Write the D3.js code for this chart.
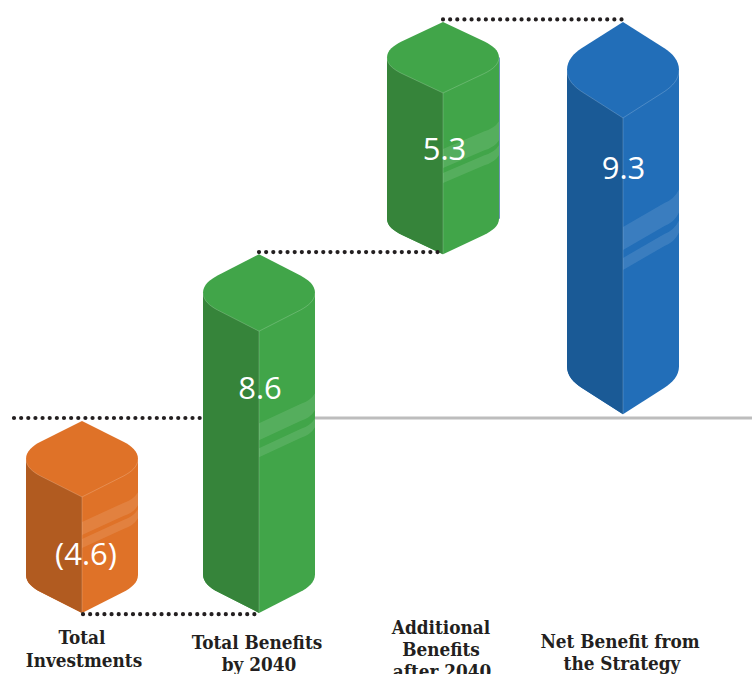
<!DOCTYPE html>
<html><head><meta charset="utf-8">
<script src="https://d3js.org/d3.v7.min.js"></script>
<style>html,body{margin:0;padding:0;background:#fff;overflow:hidden}svg{display:block}</style>
</head><body><svg id="c" width="752" height="674"></svg>
<script>
// Data
const categories = [["Total","Investments"],["Total Benefits","by 2040"],["Additional","Benefits","after 2040"],["Net Benefit from","the Strategy"]];
const valueLabels = ["(4.6)","8.6","5.3","9.3"];
const barLow  = [-4.64,-4.64,3.90,0.09];
const barHigh = [-0.07,3.90,9.43,9.43];
const connectorLevels = [0,-4.67,3.95,9.49];

// Styles and layout
const sideColor = ["#b15b20","#36843a","#36843a","#1a5a96"];
const faceColor = ["#df7228","#41a549","#41a549","#226eb8"];
const tilt = [38,38.5,35.5,48];
const bandOffset = [25,92,56,109];
const bands = [[[0,13],[17,26]],[[0,17],[25,34]],[[0,19],[24,34]],[[0,23],[31,43]]];
const labelX = [[82,84],[257,259],[441,441,442],[620,622]];
const labelY = [[644,667],[649,671],[634,656,678],[648,670]];
const valueX = [86,260,444.5,623.5];
const valueY = [565,399,160,179];
const connectorX = [[14,204],[83,259],[259,443],[443,623]];

const svg = d3.select("#c");
const xPos = d3.scaleOrdinal().domain(d3.range(4)).range([82,259,443,623]);
const y = d3.scaleLinear().domain([0,1]).range([418,376]);
const w = 56;

// zero line
svg.append("line").attr("x1",xPos(1)).attr("x2",752).attr("y1",y(0)).attr("y2",y(0))
  .attr("stroke","#bdbdbd").attr("stroke-width",3);

// bars
categories.forEach((c,i)=>{
  const cx = xPos(i), top = y(barHigh[i]), bot = y(barLow[i]), h = tilt[i];
  const g = svg.append("g");
  const sh = 0.74*w, s1 = 0.55*h;
  const c1x = 0.88*w, c1y = 0.66*h, c2y = 0.8*h;

  if (i===2) g.append("line").attr("x1",cx+w+0.4).attr("x2",cx+w+0.4).attr("y1",top+h).attr("y2",bot-h)
    .attr("stroke","#6f93b8").attr("stroke-width",1.2);

  const d = d3.path();
  d.moveTo(cx,top);
  d.lineTo(cx-sh,top+s1);
  d.bezierCurveTo(cx-c1x,top+c1y,cx-w,top+c2y,cx-w,top+h);
  d.lineTo(cx-w,bot-h);
  d.bezierCurveTo(cx-w,bot-c2y,cx-c1x,bot-c1y,cx-sh,bot-s1);
  d.lineTo(cx,bot);
  d.lineTo(cx+sh,bot-s1);
  d.bezierCurveTo(cx+c1x,bot-c1y,cx+w,bot-c2y,cx+w,bot-h);
  d.lineTo(cx+w,top+h);
  d.bezierCurveTo(cx+w,top+c2y,cx+c1x,top+c1y,cx+sh,top+s1);
  d.closePath();
  g.append("path").attr("d",d.toString()).attr("fill",faceColor[i]);

  // left dark side
  const f = top+2*h;
  const l = d3.path();
  l.moveTo(cx,f);
  l.lineTo(cx-sh,f-s1);
  l.bezierCurveTo(cx-c1x,f-c1y,cx-w,f-c2y,cx-w,top+h);
  l.lineTo(cx-w,bot-h);
  l.bezierCurveTo(cx-w,bot-c2y,cx-c1x,bot-c1y,cx-sh,bot-s1);
  l.lineTo(cx,bot);
  l.closePath();
  g.append("path").attr("d",l.toString()).attr("fill",sideColor[i]);

  // thin rim of the top face
  const r = d3.path();
  r.moveTo(cx-w,top+h);
  r.bezierCurveTo(cx-w,f-c2y,cx-c1x,f-c1y,cx-sh,f-s1);
  r.lineTo(cx,f);
  r.lineTo(cx+sh,f-s1);
  r.bezierCurveTo(cx+c1x,f-c1y,cx+w,f-c2y,cx+w,top+h);
  g.append("path").attr("d",r.toString()).attr("fill","none").attr("stroke","#fff").attr("stroke-opacity",0.28).attr("stroke-width",0.7);
  g.append("line").attr("x1",cx).attr("x2",cx).attr("y1",f).attr("y2",bot).attr("stroke","#fff").attr("stroke-opacity",0.28).attr("stroke-width",0.7);

  // highlight bands on the right face
  const by = f + bandOffset[i];
  bands[i].forEach(([a,b])=>{
    const p = d3.path();
    const midRise = 0.5*h, cRise = 0.58*h, endRise = 0.78*h;
    p.moveTo(cx,by+a);
    p.lineTo(cx+sh,by+a-midRise);
    p.quadraticCurveTo(cx+w*0.92,by+a-cRise,cx+w,by+a-endRise);
    p.lineTo(cx+w,by+b-endRise);
    p.quadraticCurveTo(cx+w*0.92,by+b-cRise,cx+sh,by+b-midRise);
    p.lineTo(cx,by+b);
    p.closePath();
    g.append("path").attr("d",p.toString()).attr("fill","#fff").attr("fill-opacity",0.11);
  });
});

// connectors
connectorLevels.forEach((lv,i)=>{
  svg.append("line").attr("x1",connectorX[i][0]).attr("x2",connectorX[i][1]).attr("y1",y(lv)).attr("y2",y(lv))
    .attr("stroke","#231f20").attr("stroke-width",4.2).attr("stroke-linecap","round").attr("stroke-dasharray","0.01 7.13");
});

// labels
categories.forEach((c,i)=>{
  svg.append("text").attr("x",valueX[i]).attr("y",valueY[i]).attr("text-anchor","middle")
    .attr("font-family","'Open Sans',sans-serif").attr("font-size",31).attr("fill","#fff").text(valueLabels[i]);
  c.forEach((t,k)=>{
    svg.append("text").attr("x",labelX[i][k]).attr("y",labelY[i][k]).attr("text-anchor","middle")
      .attr("font-family","'DejaVu Serif',serif").attr("font-stretch","condensed").attr("font-weight","bold").attr("font-size",18.8).attr("fill","#231f20").text(t);
  });
});
</script></body></html>
